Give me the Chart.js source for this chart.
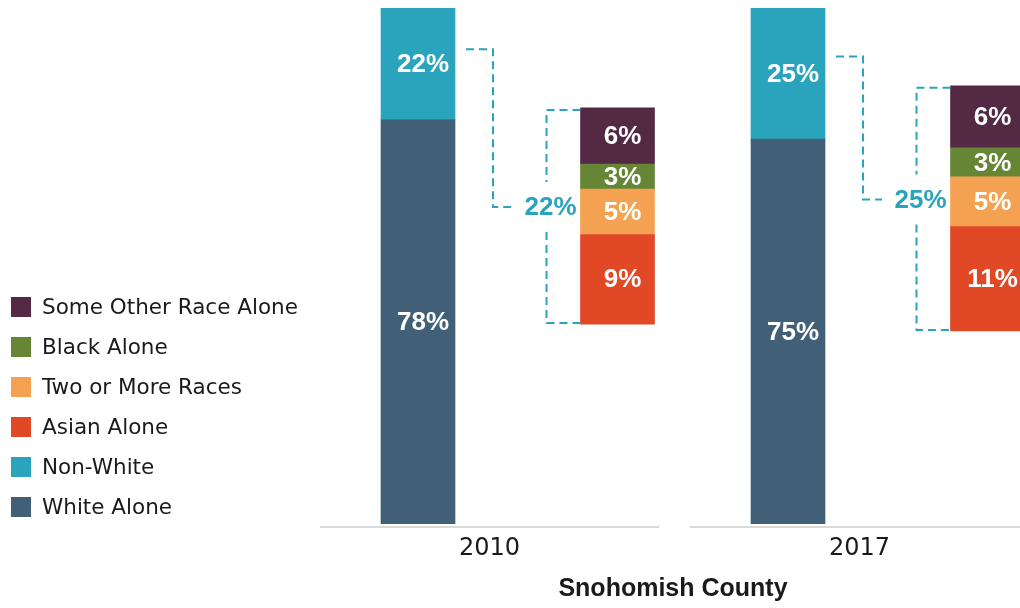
<!DOCTYPE html>
<html>
<head>
<meta charset="utf-8">
<script src="https://cdn.jsdelivr.net/npm/chart.js@4.4.1/dist/chart.umd.min.js"></script>
<style>
  html, body { margin: 0; padding: 0; background: #fff; }
  #wrap { width: 1020px; height: 608px; position: relative; overflow: hidden; }
</style>
</head>
<body>
<div id="wrap"><canvas id="myChart"></canvas></div>
<script>
// Values (percent of county population)
const years = ['2010', '2017'];
const whiteAlone = [78.4, 74.6];
const nonWhite = [21.6, 25.4];
const asianAlone = [9.1, 10.6];
const twoOrMore = [4.6, 5.05];
const blackAlone = [2.55, 2.95];
const someOther = [5.7, 6.3];

// Layout (px and axis units, not data)
const padLeft = 326;
const unitPx = 370;            // distance between the two year groups
const firstCenter = 489.5;     // pixel of the 2010 tick
const mainOffset = -71.5 / unitPx;
const detailOffset = 128 / unitPx;
const detailBase = [20.3, 19.6];   // start of breakdown bar on the detail axis
const detailMax = 52.4;
const teal = '#2aa4bd';

function mainData(vals) {
    return vals.map((v, i) => ({ x: i + mainOffset, y: v }));
}

const detailSeries = [asianAlone, twoOrMore, blackAlone, someOther];
function detailData(k) {
    return years.map((y, i) => {
        let start = detailBase[i];
        for (let j = 0; j < k; j++) start += detailSeries[j][i];
        return { x: i + detailOffset, y: [start, start + detailSeries[k][i]] };
    });
}

// White labels in the middle of each segment
const valueLabels = {
    id: 'valueLabels',
    afterDatasetsDraw(chart) {
        const ctx = chart.ctx;
        ctx.save();
        ctx.font = 'bold 26px "Liberation Sans"';
        ctx.fillStyle = '#ffffff';
        ctx.textAlign = 'center';
        ctx.textBaseline = 'middle';
        chart.data.datasets.forEach((ds, d) => {
            chart.getDatasetMeta(d).data.forEach((bar, i) => {
                ctx.fillText(Math.round(ds.pct[i]) + '%', bar.x + 5, (bar.y + bar.base) / 2 + 1);
            });
        });
        ctx.restore();
    }
};

// Dashed brackets linking Non-White to its breakdown
const brackets = {
    id: 'brackets',
    afterDatasetsDraw(chart) {
        const ctx = chart.ctx;
        const nw = chart.getDatasetMeta(1).data;
        const low = chart.getDatasetMeta(2).data;
        const high = chart.getDatasetMeta(5).data;
        ctx.save();
        ctx.strokeStyle = teal;
        ctx.lineWidth = 2;
        ctx.setLineDash([8, 5]);
        years.forEach((y, i) => {
            const mainRight = nw[i].x + nw[i].width / 2;
            const y1 = nw[i].y + 0.37 * (nw[i].base - nw[i].y);
            const dTop = high[i].y;
            const dBottom = low[i].base;
            const dLeft = low[i].x - low[i].width / 2;
            const yLab = (dTop + dBottom) / 2 - 9;
            const xv = mainRight + 38;
            const xb = dLeft - 34;

            ctx.beginPath();
            ctx.moveTo(mainRight + 11, y1);
            ctx.lineTo(xv, y1);
            ctx.lineTo(xv, yLab);
            ctx.lineTo(xv + 19, yLab);
            ctx.stroke();

            ctx.beginPath();
            ctx.moveTo(dLeft, dTop + 2);
            ctx.lineTo(xb, dTop + 2);
            ctx.lineTo(xb, yLab - 25);
            ctx.stroke();

            ctx.beginPath();
            ctx.moveTo(xb, yLab + 25);
            ctx.lineTo(xb, dBottom - 1);
            ctx.lineTo(dLeft, dBottom - 1);
            ctx.stroke();

            ctx.font = 'bold 26px "Liberation Sans"';
            ctx.fillStyle = teal;
            ctx.textAlign = 'center';
            ctx.textBaseline = 'middle';
            ctx.fillText(Math.round(nonWhite[i]) + '%', dLeft - 30, yLab + 1);
        });
        ctx.restore();
    }
};

// Grey baseline, one piece per year group
const baseLines = {
    id: 'baseLines',
    afterDraw(chart) {
        const ctx = chart.ctx;
        const x = chart.scales.x;
        const yy = chart.chartArea.bottom + 3;
        ctx.save();
        ctx.strokeStyle = '#d9d9d9';
        ctx.lineWidth = 2;
        years.forEach((y, i) => {
            ctx.beginPath();
            ctx.moveTo(x.getPixelForValue(i - 169.5 / unitPx), yy);
            ctx.lineTo(x.getPixelForValue(i + 169.5 / unitPx), yy);
            ctx.stroke();
        });
        ctx.restore();
    }
};

// Legend on the left, top to bottom in reverse dataset order
const sideLegend = {
    id: 'sideLegend',
    afterDraw(chart) {
        const ctx = chart.ctx;
        const items = chart.data.datasets.slice().reverse();
        ctx.save();
        ctx.font = '21.5px "DejaVu Sans"';
        ctx.textAlign = 'left';
        ctx.textBaseline = 'middle';
        items.forEach((ds, k) => {
            const top = 297 + k * 40;
            ctx.fillStyle = ds.backgroundColor;
            ctx.fillRect(11, top, 20, 20);
            ctx.fillStyle = '#1a1a1a';
            ctx.fillText(ds.label, 42, top + 11);
        });
        ctx.restore();
    }
};

const ctx = document.getElementById('myChart').getContext('2d');
const chart = new Chart(ctx, {
    type: 'bar',
    data: {
        datasets: [
            { label: 'White Alone', data: mainData(whiteAlone), pct: whiteAlone, backgroundColor: '#416077', stack: 'main', yAxisID: 'y' },
            { label: 'Non-White', data: mainData(nonWhite), pct: nonWhite, backgroundColor: teal, stack: 'main', yAxisID: 'y' },
            { label: 'Asian Alone', data: detailData(0), pct: asianAlone, backgroundColor: '#e04826', stack: 'detail', yAxisID: 'yd' },
            { label: 'Two or More Races', data: detailData(1), pct: twoOrMore, backgroundColor: '#f4a251', stack: 'detail', yAxisID: 'yd' },
            { label: 'Black Alone', data: detailData(2), pct: blackAlone, backgroundColor: '#668636', stack: 'detail', yAxisID: 'yd' },
            { label: 'Some Other Race Alone', data: detailData(3), pct: someOther, backgroundColor: '#532944', stack: 'detail', yAxisID: 'yd' }
        ]
    },
    options: {
        responsive: true,
        maintainAspectRatio: false,
        animation: false,
        layout: { padding: { left: padLeft, top: 8, right: 0, bottom: 0 } },
        datasets: { bar: { barThickness: 74, grouped: false, borderWidth: 0 } },
        plugins: {
            legend: { display: false },
            tooltip: { enabled: false }
        },
        scales: {
            x: {
                type: 'linear',
                offset: false,
                min: (padLeft - firstCenter) / unitPx,
                max: (1020 - firstCenter) / unitPx,
                grid: { display: false, drawTicks: false, offset: false },
                border: { display: false },
                afterBuildTicks: (s) => { s.ticks = years.map((y, i) => ({ value: i })); },
                ticks: {
                    autoSkip: false,
                    maxRotation: 0,
                    padding: 10.5,
                    color: '#1a1a1a',
                    font: { family: '"DejaVu Sans"', size: 24, lineHeight: 1.2 },
                    callback: (v) => years[Math.round(v)]
                },
                title: {
                    display: true,
                    text: 'Snohomish County',
                    color: '#1a1a1a',
                    font: { family: '"Liberation Sans"', size: 25, weight: 'bold', lineHeight: 1 },
                    padding: { top: 2.7, bottom: 6.5 }
                }
            },
            y: { display: false, stacked: true, min: 0, max: 100 },
            yd: { display: false, stacked: false, min: 0, max: detailMax }
        }
    },
    plugins: [valueLabels, brackets, baseLines, sideLegend]
});
</script>
</body>
</html>
